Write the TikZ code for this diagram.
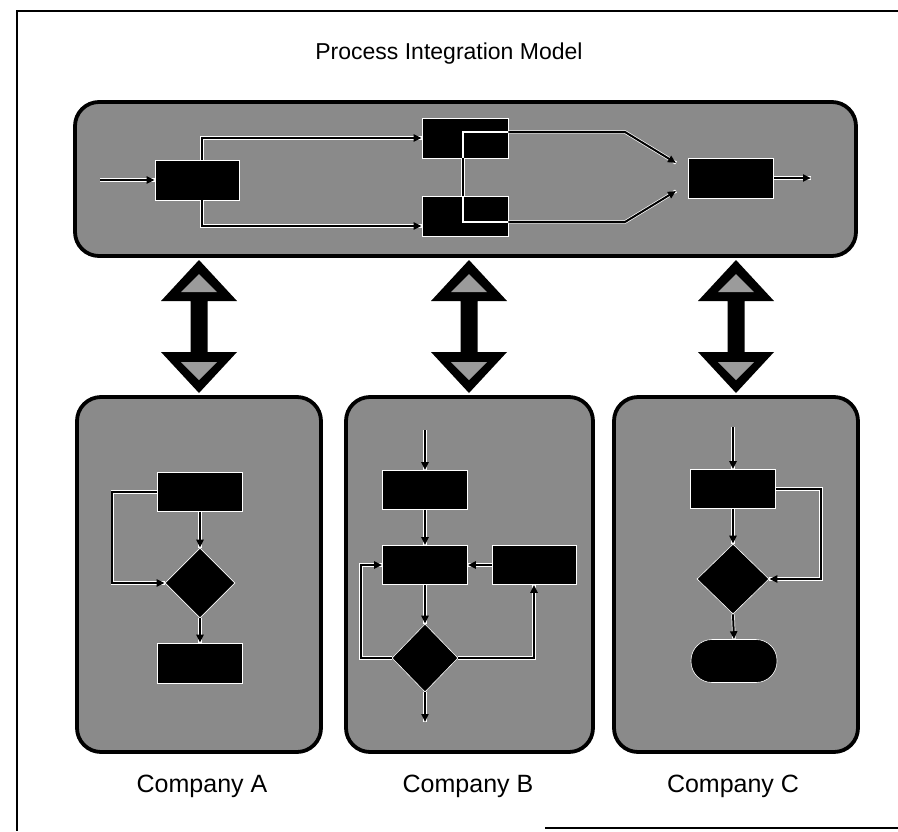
\documentclass[tikz,border=0pt]{standalone}
\usepackage{fontspec}
\setmainfont{Liberation Sans}
\usetikzlibrary{shapes.geometric,arrows.meta}
\definecolor{panelgray}{RGB}{138,138,138}
\definecolor{headgray}{RGB}{155,155,155}
\begin{document}
\begin{tikzpicture}[x=1pt,y=-1pt,
  panel/.style={draw=black, line width=3.8pt, fill=panelgray, rounded corners=24pt, inner sep=0pt},
  procbox/.style={fill=black, draw=white, line width=0.6pt, minimum width=85pt, minimum height=39pt, inner sep=0pt},
  decis/.style={diamond, fill=black, draw=white, line width=0.6pt, inner sep=0pt, minimum width=70pt, minimum height=70pt},
  termin/.style={fill=black, draw=white, line width=0.6pt, rounded corners=21pt, minimum width=86pt, minimum height=43pt, inner sep=0pt},
  flow/.style={draw=black, line width=2pt, -{Triangle[length=8pt,width=7pt]}, preaction={draw=white, line width=3.4pt, -}},
  link/.style={draw=black, line width=2pt, preaction={draw=white, line width=3.4pt}},
  txt/.style={font=\fontsize{25}{30}\selectfont, inner sep=0pt, anchor=base},
  ttl/.style={font=\fontsize{23}{28}\selectfont, inner sep=0pt, anchor=base}
]
\useasboundingbox (0,0) rectangle (898,831);
% frame
\draw[line width=1.2pt] (898,11) -- (17,11) -- (17,831);
\draw[line width=1.2pt] (545,828) -- (898,828);

\node[ttl] (title) at (449,59) {Process Integration Model};

% panels
\node[panel, minimum width=781pt, minimum height=154pt] (top) at (465.5,179) {};
\node[panel, minimum width=244pt, minimum height=355pt] (pa) at (199,574.5) {};
\node[panel, minimum width=247pt, minimum height=355pt] (pb) at (469.5,574.5) {};
\node[panel, minimum width=244pt, minimum height=355pt] (pc) at (736,574.5) {};

% double arrows
\foreach \c in {199,469,736}{
  \fill (\c,260) -- (\c+38,301) -- (\c+8.5,301) -- (\c+8.5,352) -- (\c+38,352) -- (\c,393)
        -- (\c-38,352) -- (\c-8.5,352) -- (\c-8.5,301) -- (\c-38,301) -- cycle;
  \fill[headgray] (\c,274) -- (\c+18,292) -- (\c-18,292) -- cycle;
  \fill[headgray] (\c,380) -- (\c+18,362) -- (\c-18,362) -- cycle;
}

% top process
\node[procbox, minimum width=84pt, minimum height=40pt] (p1) at (197,180) {};
\node[procbox, minimum width=86pt, minimum height=40pt] (p2) at (465,138) {};
\node[procbox, minimum width=86pt, minimum height=40pt] (p3) at (465,216) {};
\node[procbox, minimum width=85pt, minimum height=40pt] (p4) at (731,178) {};
\draw[white, line width=1.4pt] (508,132) -- (463,132) -- (463,158);
\draw[white, line width=1.4pt] (463,196) -- (463,222) -- (508,222);
\coordinate (tin) at (100,180);
\coordinate (tout) at (811,178);
\coordinate (m1) at (676,163);
\coordinate (m2) at (676,191);
\draw[flow] (tin) -- (p1.west);
\draw[flow] ([xshift=5pt]p1.north) |- (p2.west);
\draw[flow] ([xshift=5pt]p1.south) |- (p3.west |- 0,226);
\draw[link] (p2.south -| 463,0) -- (p3.north -| 463,0);
\draw[flow] (p2.east |- 0,132) -- (625,132) -- (m1);
\draw[flow] (p3.east |- 0,222) -- (625,222) -- (m2);
\draw[flow] (p4.east) -- (tout);

% Company A
\node[procbox] (a1) at (200,492) {};
\node[decis] (ad) at (200,583) {};
\node[procbox, minimum height=40pt] (a2) at (200,663) {};
\draw[flow] (a1.south) -- (ad.north);
\draw[flow] (ad.south) -- (a2.north);
\draw[flow] (a1.west) -- ++(-45,0) |- (ad.west);

% Company B
\node[procbox] (b1) at (425,490) {};
\node[procbox] (b2) at (425,565) {};
\node[procbox, minimum width=84pt] (b3) at (534,565) {};
\node[decis, minimum width=66pt, minimum height=68pt] (bd) at (425,658) {};
\coordinate (bin) at (425,430);
\coordinate (bout) at (425,722);
\draw[flow] (bin) -- (b1.north);
\draw[flow] (b1.south) -- (b2.north);
\draw[flow] (b3.west) -- (b2.east);
\draw[flow] (b2.south) -- (bd.north);
\draw[flow] (bd.west) -- (361,658) |- (b2.west);
\draw[flow] (bd.east) -| (b3.south);
\draw[flow] (bd.south) -- (bout);

% Company C
\node[procbox] (c1) at (733,489) {};
\node[decis, minimum width=72pt, minimum height=70pt] (cd) at (733,579) {};
\node[termin] (c2) at (734,661) {};
\coordinate (cin) at (733,427);
\draw[flow] (cin) -- (c1.north);
\draw[flow] (c1.south) -- (cd.north);
\draw[flow] (cd.south) -- (c2.north);
\draw[flow] (c1.east) -- ++(45,0) |- (cd.east);

% labels
\node[txt] (la) at (202,792) {Company A};
\node[txt] (lb) at (468,792) {Company B};
\node[txt] (lc) at (733,792) {Company C};
\end{tikzpicture}
\end{document}
